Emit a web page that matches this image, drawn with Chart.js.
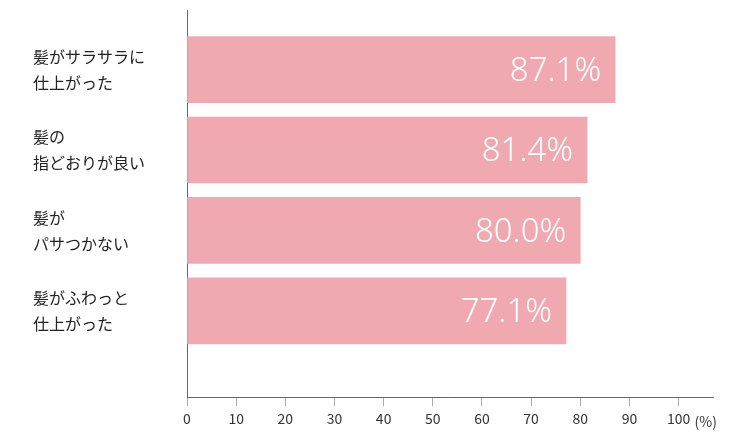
<!DOCTYPE html>
<html>
<head>
<meta charset="utf-8">
<script src="https://cdn.jsdelivr.net/npm/chart.js@4/dist/chart.umd.min.js"></script>
<style>
  html, body { margin: 0; padding: 0; background: #fff; }
  #wrap { width: 750px; height: 432px; }
</style>
</head>
<body>
<div id="wrap"><canvas id="chart"></canvas></div>
<script>
// Data
const categories = [
    ['髪がサラサラに', '仕上がった'],
    ['髪の', '指どおりが良い'],
    ['髪が', 'パサつかない'],
    ['髪がふわっと', '仕上がった']
];
const values = [87.1, 81.4, 80.0, 77.1];
const xTicks = [0, 10, 20, 30, 40, 50, 60, 70, 80, 90, 100];

const FONT = "'Noto Sans CJK JP', 'Noto Sans', sans-serif";

// バー内の数値ラベル
const valueLabels = {
    id: 'valueLabels',
    afterDatasetsDraw(chart) {
        const ctx = chart.ctx;
        const meta = chart.getDatasetMeta(0);
        ctx.save();
        ctx.fillStyle = '#fff';
        ctx.font = "300 33px 'Noto Sans', sans-serif";
        ctx.textAlign = 'right';
        ctx.textBaseline = 'middle';
        meta.data.forEach((bar, i) => {
            ctx.fillText(values[i].toFixed(1) + '%', bar.x - 14, bar.y + 2);
        });
        ctx.restore();
    }
};

// カテゴリラベルと単位 (%)
const sideLabels = {
    id: 'sideLabels',
    afterDraw(chart) {
        const ctx = chart.ctx;
        const y = chart.scales.y;
        ctx.save();
        ctx.fillStyle = '#222';
        ctx.font = '16px ' + FONT;
        ctx.textAlign = 'left';
        ctx.textBaseline = 'middle';
        categories.forEach((lines, i) => {
            const cy = y.getPixelForValue(i);
            ctx.fillText(lines[0], 33, cy - 13);
            ctx.fillText(lines[1], 33, cy + 13);
        });
        const x = chart.scales.x.getPixelForValue(100);
        ctx.font = '14px ' + FONT;
        ctx.fillStyle = '#333';
        ctx.fillText('(%)', x + 16, 422);
        ctx.restore();
    }
};

new Chart(document.getElementById('chart'), {
    type: 'bar',
    data: {
        datasets: [{
            data: values.map((v, i) => ({ x: v, y: i })),
            backgroundColor: '#f0a9b0',
            barThickness: 66
        }]
    },
    options: {
        indexAxis: 'y',
        responsive: true,
        maintainAspectRatio: false,
        animation: false,
        layout: { padding: { top: 10, right: 37, bottom: 0, left: 0 } },
        plugins: { legend: { display: false }, tooltip: { enabled: false } },
        scales: {
            x: {
                type: 'linear',
                min: 0,
                max: 107,
                afterBuildTicks: scale => { scale.ticks = xTicks.map(v => ({ value: v })); },
                afterFit: scale => { scale.height = 35; },
                grid: { drawOnChartArea: false, tickLength: 9, tickColor: '#aaa' },
                border: { color: '#666', width: 1 },
                ticks: { color: '#333', font: { family: FONT, size: 14 }, padding: 4, maxRotation: 0 }
            },
            y: {
                type: 'linear',
                reverse: true,
                min: -0.5,
                max: 3.83,
                afterFit: scale => { scale.width = 187; },
                grid: { display: false },
                border: { color: '#666', width: 1 },
                ticks: { display: false }
            }
        }
    },
    plugins: [valueLabels, sideLabels]
});
</script>
</body>
</html>
